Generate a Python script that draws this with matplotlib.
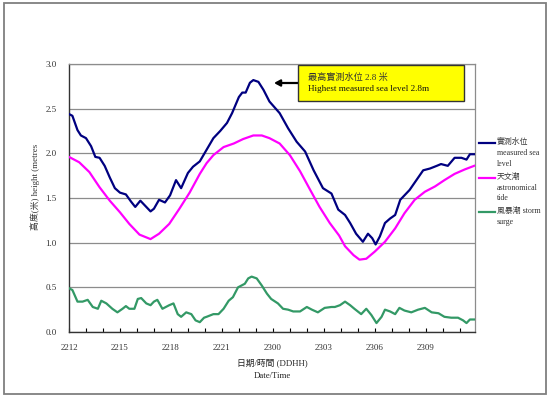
import matplotlib
matplotlib.use("Agg")
import matplotlib.pyplot as plt
from matplotlib.lines import Line2D
from matplotlib.patches import Rectangle

# ---------------- data ----------------
x_tick_hours = [0, 3, 6, 9, 12, 15, 18, 21]
x_tick_labels = ["2212", "2215", "2218", "2221", "2300", "2303", "2306", "2309"]
y_ticks = [0.0, 0.5, 1.0, 1.5, 2.0, 2.5, 3.0]

measured_t = [0, 0.2, 0.5, 0.7, 1.0, 1.3, 1.55, 1.8, 2.1, 2.4, 2.7, 3.0, 3.35, 3.65, 3.9,
              4.2, 4.45, 4.8, 5.0, 5.3, 5.65, 5.95, 6.3, 6.6, 7.0, 7.3, 7.7, 8.1, 8.5, 8.9,
              9.3, 9.6, 10.0, 10.2, 10.4, 10.65, 10.85, 11.15, 11.45, 11.8, 12.4, 12.9,
              13.4, 13.9, 14.4, 14.95, 15.45, 15.85, 16.25, 16.55, 16.9, 17.3, 17.6,
              17.85, 18.05, 18.3, 18.6, 18.9, 19.2, 19.5, 19.75, 20.05, 20.45, 20.85,
              21.25, 21.65, 21.9, 22.3, 22.7, 23.1, 23.4, 23.6, 23.85]
measured_v = [2.44, 2.42, 2.26, 2.20, 2.17, 2.08, 1.96, 1.95, 1.86, 1.73, 1.61, 1.56, 1.54,
              1.46, 1.40, 1.47, 1.42, 1.35, 1.38, 1.48, 1.45, 1.53, 1.70, 1.61, 1.78, 1.85,
              1.91, 2.04, 2.17, 2.25, 2.34, 2.45, 2.63, 2.68, 2.68, 2.79, 2.82, 2.80, 2.71,
              2.58, 2.45, 2.28, 2.13, 2.02, 1.81, 1.61, 1.55, 1.37, 1.31, 1.22, 1.10, 1.01,
              1.10, 1.05, 0.98, 1.07, 1.22, 1.27, 1.31, 1.48, 1.53, 1.59, 1.70, 1.81, 1.83,
              1.86, 1.88, 1.86, 1.95, 1.95, 1.93, 1.99, 1.99]

astro_t = [0, 0.6, 1.2, 1.8, 2.4, 3.0, 3.55, 4.15, 4.8, 5.3, 5.9, 6.5, 7.1, 7.7, 8.1, 8.5,
           9.1, 9.7, 10.25, 10.85, 11.35, 11.8, 12.4, 13.0, 13.6, 14.2, 14.75, 15.35, 15.9,
           16.25, 16.75, 17.1, 17.5, 18.0, 18.6, 19.2, 19.75, 20.35, 20.95, 21.55, 22.1,
           22.7, 23.3, 23.85]
astro_v = [1.96, 1.90, 1.79, 1.62, 1.47, 1.34, 1.21, 1.09, 1.04, 1.10, 1.21, 1.38, 1.56,
           1.77, 1.89, 1.98, 2.07, 2.11, 2.16, 2.20, 2.20, 2.17, 2.11, 1.98, 1.80, 1.59,
           1.40, 1.22, 1.08, 0.96, 0.86, 0.81, 0.82, 0.90, 1.01, 1.16, 1.33, 1.48, 1.57,
           1.63, 1.70, 1.77, 1.82, 1.86]

surge_t = [0, 0.2, 0.5, 0.8, 1.1, 1.4, 1.7, 1.9, 2.2, 2.55, 2.85, 3.15, 3.35, 3.55, 3.85,
           4.05, 4.25, 4.55, 4.8, 5.0, 5.2, 5.5, 5.7, 5.9, 6.15, 6.4, 6.6, 6.9, 7.2, 7.45,
           7.7, 7.95, 8.1, 8.5, 8.8, 9.1, 9.4, 9.65, 9.95, 10.15, 10.35, 10.55, 10.75,
           11.05, 11.35, 11.65, 11.9, 12.3, 12.6, 12.9, 13.2, 13.6, 14.0, 14.3, 14.65,
           15.05, 15.45, 15.65, 15.95, 16.25, 16.55, 16.8, 17.2, 17.5, 17.8, 18.1, 18.4,
           18.6, 18.9, 19.2, 19.45, 19.75, 20.15, 20.55, 20.95, 21.35, 21.75, 22.1, 22.5,
           22.9, 23.2, 23.4, 23.6, 23.85]
surge_v = [0.49, 0.47, 0.34, 0.34, 0.36, 0.28, 0.26, 0.35, 0.32, 0.26, 0.22, 0.26, 0.29,
           0.26, 0.26, 0.37, 0.38, 0.32, 0.30, 0.34, 0.36, 0.26, 0.28, 0.30, 0.32, 0.20,
           0.17, 0.22, 0.20, 0.13, 0.11, 0.16, 0.17, 0.20, 0.20, 0.26, 0.35, 0.39, 0.50,
           0.52, 0.54, 0.60, 0.62, 0.60, 0.52, 0.43, 0.37, 0.32, 0.26, 0.25, 0.23, 0.23,
           0.28, 0.25, 0.22, 0.27, 0.28, 0.28, 0.30, 0.34, 0.30, 0.26, 0.20, 0.26, 0.19,
           0.10, 0.17, 0.25, 0.23, 0.20, 0.27, 0.24, 0.22, 0.25, 0.27, 0.22, 0.21, 0.17,
           0.16, 0.16, 0.13, 0.10, 0.14, 0.14]

legend_labels = ["實測水位\nmeasured sea\nlevel", "天文潮\nastronomical\ntide", "風暴潮 storm\nsurge"]
colors = ["#000080", "#FF00FF", "#339966"]

# ---------------- style ----------------
FAM = ["Liberation Serif", "Noto Sans CJK TC"]
plt.rcParams["font.family"] = FAM
plt.rcParams["font.size"] = 6.3

W, H = 550, 399
fig = plt.figure(figsize=(W / 100, H / 100), dpi=100)

def fx(px):
    return px / W

def fy(py):
    return 1 - py / H

# outer border
fig.patches.append(Rectangle((fx(4), fy(394)), fx(546) - fx(4), fy(3) - fy(394),
                             transform=fig.transFigure, fill=False,
                             edgecolor="#7f7f7f", linewidth=1.3))

ax = fig.add_axes([fx(69), fy(332), fx(475) - fx(69), fy(64) - fy(332)])

ax.plot(measured_t, measured_v, color=colors[0], linewidth=1.6, zorder=3)
ax.plot(astro_t, astro_v, color=colors[1], linewidth=1.6, zorder=3)
ax.plot(surge_t, surge_v, color=colors[2], linewidth=1.6, zorder=3)

ax.set_xlim(0, 23.9)
ax.set_ylim(0, 3.0)
ax.set_yticks(y_ticks)
ax.set_yticklabels([f"{v:.1f}" for v in y_ticks], color="#333333", fontsize=6.5)
ax.set_xticks(x_tick_hours)
ax.set_xticklabels(x_tick_labels, color="#333333", fontsize=6.5)
ax.set_xticks(range(0, 24), minor=True)
ax.tick_params(axis="x", which="both", direction="in", length=3, width=0.8, pad=9)
ax.tick_params(axis="y", which="both", length=0, pad=9)
ax.yaxis.grid(True, color="#8c8c8c", linewidth=0.9)
ax.set_axisbelow(True)
for s in ["top", "right"]:
    ax.spines[s].set_color("#8c8c8c")
    ax.spines[s].set_linewidth(0.9)
for s in ["left", "bottom"]:
    ax.spines[s].set_color("#333333")
    ax.spines[s].set_linewidth(1.0)

ax.set_ylabel("高度(米) height (metres", color="#333333", fontsize=6.4)
ax.yaxis.set_label_coords(-0.071, 0.54)

fig.text(fx(272), fy(363), "日期/時間 (DDHH)", ha="center", va="center", color="#222222",
         fontsize=6.3)
fig.text(fx(272), fy(376), "Date/Time", ha="center", va="center", color="#222222",
         fontsize=6.3)

# annotation box
box = Rectangle((fx(298), fy(101)), fx(464) - fx(298), fy(65) - fy(101),
                transform=fig.transFigure, facecolor="#FFFF00", edgecolor="#333333",
                linewidth=1.0, zorder=5)
fig.patches.append(box)
fig.text(fx(308), fy(77), "最高實測水位 2.8 米", ha="left", va="center", color="#333333",
         fontsize=6.6, zorder=6)
fig.text(fx(308), fy(89), "Highest measured sea level 2.8m", ha="left", va="center",
         color="#111111", fontsize=6.6, zorder=6)
ax.annotate("", xy=(fx(274), fy(83)), xycoords="figure fraction",
            xytext=(fx(298), fy(83)), textcoords="figure fraction",
            arrowprops=dict(arrowstyle="-|>,head_length=0.55,head_width=0.3",
                            color="black", linewidth=1.6, shrinkA=0, shrinkB=0),
            annotation_clip=False)

# legend
leg_rows = [143, 178, 212]
for lab, col, yy in zip(legend_labels, colors, leg_rows):
    fig.lines.append(Line2D([fx(479), fx(495)], [fy(yy), fy(yy)], transform=fig.transFigure,
                            color=col, linewidth=1.6))
    fig.text(fx(497), fy(yy - 5), lab, ha="left", va="top", color="#333333",
             fontsize=5.7, linespacing=1.45)

fig.savefig("out.png", dpi=100)
